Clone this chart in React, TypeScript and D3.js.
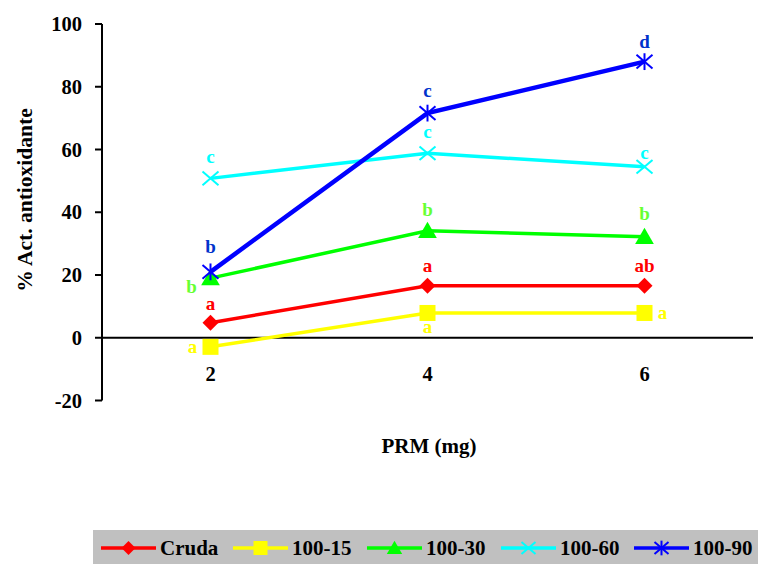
import React from "react";
import * as d3 from "d3";

const categories = ["2", "4", "6"];
const seriesNames = ["Cruda", "100-15", "100-30", "100-60", "100-90"];
const cruda = [4.8, 16.6, 16.6];
const s100_15 = [-2.9, 7.9, 7.9];
const s100_30 = [19.0, 34.1, 32.2];
const s100_60 = [50.8, 58.8, 54.5];
const s100_90 = [21.0, 71.6, 88.0];
const letters = [
  ["a", "a", "ab"],
  ["a", "a", "a"],
  ["b", "b", "b"],
  ["c", "c", "c"],
  ["b", "c", "d"],
];
const yTicks = [-20, 0, 20, 40, 60, 80, 100];

const values = [cruda, s100_15, s100_30, s100_60, s100_90];
const lineColors = ["#FF0000", "#FFFF00", "#00FF00", "#00FFFF", "#0000FF"];
const labelColors = ["#FF0000", "#FFFF00", "#66FF33", "#00FFFF", "#0033CC"];
const markers = ["diamond", "square", "triangle", "x", "asterisk"];
const lineWidths = [3.5, 3.5, 3.5, 3.5, 4.5];
// label placement per series/point: [dx, dy] relative to point
const labelOffsets = [
  [[0, -13], [0, -14], [0, -14]],
  [[-18, 6], [0, 20], [18, 6]],
  [[-19, 15], [0, -15], [0, -17]],
  [[0, -15], [0, -15], [0, -8]],
  [[0, -19], [0, -16], [0, -14]],
];

const FONT = "Liberation Serif, DejaVu Serif, serif";

function Marker({ type, x, y, color, s }: { type: string; x: number; y: number; color: string; s: number }) {
  if (type === "diamond") {
    return <path d={`M${x},${y - s}L${x + s},${y}L${x},${y + s}L${x - s},${y}Z`} fill={color} />;
  }
  if (type === "square") {
    return <rect x={x - s} y={y - s} width={2 * s} height={2 * s} fill={color} />;
  }
  if (type === "triangle") {
    return <path d={`M${x},${y - s * 1.05}L${x + s * 1.1},${y + s * 0.85}L${x - s * 1.1},${y + s * 0.85}Z`} fill={color} />;
  }
  if (type === "x") {
    return (
      <g stroke={color} strokeWidth={2}>
        <line x1={x - s} y1={y - s * 0.85} x2={x + s} y2={y + s * 0.85} />
        <line x1={x - s} y1={y + s * 0.85} x2={x + s} y2={y - s * 0.85} />
      </g>
    );
  }
  return (
    <g stroke={color} strokeWidth={2}>
      <line x1={x - s} y1={y - s * 0.85} x2={x + s} y2={y + s * 0.85} />
      <line x1={x - s} y1={y + s * 0.85} x2={x + s} y2={y - s * 0.85} />
      <line x1={x} y1={y - s * 1.05} x2={x} y2={y + s * 1.05} />
    </g>
  );
}

export default function App() {
  const W = 758;
  const H = 564;
  const left = 102;
  const right = 753;
  const x = d3.scaleBand<string>().domain(categories).range([left, right]);
  const y = d3.scaleLinear().domain([-20, 100]).range([400.5, 24]);
  const cx = (c: string) => (x(c) as number) + x.bandwidth() / 2;
  const line = d3
    .line<number>()
    .x((_, i) => cx(categories[i]))
    .y((v) => y(v));

  const legendX = [101, 233, 367, 501, 634];
  const legendY = 548;
  const ts = { fontFamily: FONT, fontWeight: "bold" as const };

  return (
    <svg width={W} height={H} style={{ position: "absolute", left: 0, top: 0, fontFamily: FONT, fontWeight: "bold" }}>
      <rect x={0} y={0} width={W} height={H} fill="#fff" />
      {/* y axis */}
      <line x1={left} y1={y(100)} x2={left} y2={y(-20)} stroke="#000" strokeWidth={2} />
      {yTicks.map((t) => (
        <g key={t}>
          <line x1={left - 7} y1={y(t)} x2={left} y2={y(t)} stroke="#000" strokeWidth={2} />
          <text x={left - 20} y={y(t) + 7} textAnchor="end" fontSize={20.5} style={ts}>
            {t}
          </text>
        </g>
      ))}
      {/* x axis at zero */}
      <line x1={left} y1={y(0)} x2={right} y2={y(0)} stroke="#000" strokeWidth={2} />
      {categories.map((c) => (
        <text key={c} x={cx(c)} y={y(0) + 43} textAnchor="middle" fontSize={20.5} style={ts}>
          {c}
        </text>
      ))}
      <text x={429} y={453} textAnchor="middle" fontSize={21} style={ts}>
        PRM (mg)
      </text>
      <text transform={`translate(32,${200}) rotate(-90)`} textAnchor="middle" fontSize={21.5} style={ts}>
        % Act. antioxidante
      </text>

      {/* series */}
      {values.map((vals, si) => (
        <g key={seriesNames[si]}>
          <path d={line(vals) as string} fill="none" stroke={lineColors[si]} strokeWidth={lineWidths[si]} />
          {vals.map((v, i) => (
            <Marker key={i} type={markers[si]} x={cx(categories[i])} y={y(v)} color={lineColors[si]} s={si === 2 ? 8.5 : 8} />
          ))}
        </g>
      ))}
      {values.map((vals, si) =>
        vals.map((v, i) => (
          <text
            key={`${si}-${i}`}
            x={cx(categories[i]) + labelOffsets[si][i][0]}
            y={y(v) + labelOffsets[si][i][1]}
            textAnchor="middle"
            fontSize={19}
            fill={labelColors[si]}
            style={ts}
          >
            {letters[si][i]}
          </text>
        ))
      )}

      {/* legend */}
      <rect x={93} y={530} width={W - 93} height={H - 530} fill="#C0C0C0" />
      {seriesNames.map((n, si) => (
        <g key={n}>
          <line x1={legendX[si]} y1={legendY} x2={legendX[si] + 55} y2={legendY} stroke={lineColors[si]} strokeWidth={3.5} />
          <Marker type={markers[si]} x={legendX[si] + 27.5} y={legendY} color={lineColors[si]} s={7} />
          <text x={legendX[si] + 59} y={legendY + 7} fontSize={21} fill="#000" style={ts}>
            {n}
          </text>
        </g>
      ))}
    </svg>
  );
}
